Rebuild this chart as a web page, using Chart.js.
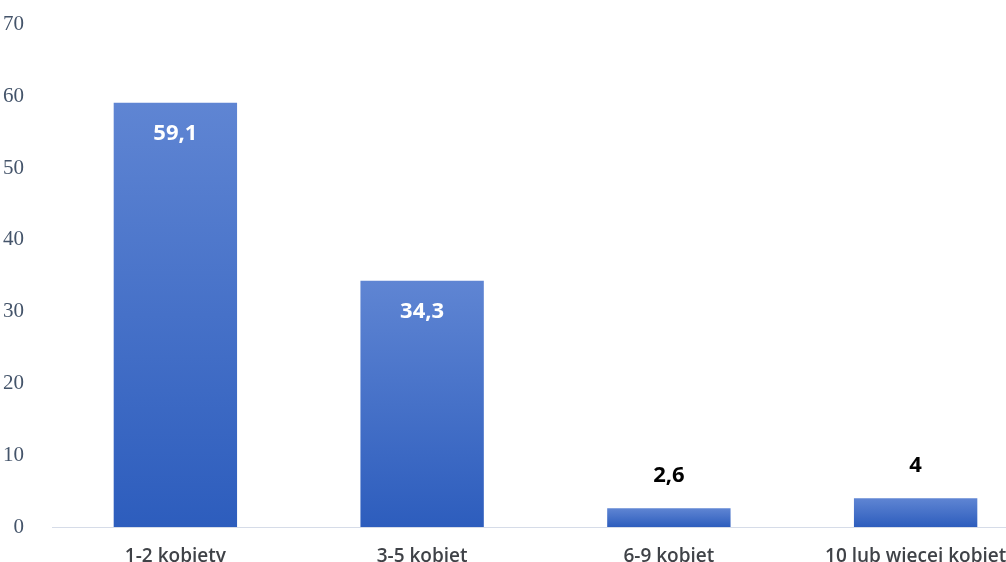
<!DOCTYPE html>
<html>
<head>
<meta charset="utf-8">
<script src="https://cdn.jsdelivr.net/npm/chart.js@4.4.0/dist/chart.umd.min.js"></script>
<style>
  html, body { margin: 0; padding: 0; background: #fff; overflow: hidden; }
  .wrap { width: 1039px; height: 583px; margin-top: -8px; position: relative; }
</style>
</head>
<body>
<div class="wrap"><canvas class="js-chart"></canvas></div>
<script>
const categories = ['1-2 kobiety', '3-5 kobiet', '6-9 kobiet', '10 lub więcej kobiet'];
const values = [59.1, 34.3, 2.6, 4];
const valueLabels = ['59,1', '34,3', '2,6', '4'];
const yTicks = [0, 10, 20, 30, 40, 50, 60, 70];

function barGradient(context) {
  const chart = context.chart;
  const { ctx, chartArea, scales } = chart;
  if (!chartArea || !scales.y) return '#4a74cc';
  const top = scales.y.getPixelForValue(context.raw);
  const base = scales.y.getPixelForValue(0);
  const g = ctx.createLinearGradient(0, top, 0, base);
  g.addColorStop(0, '#5f85d3');
  g.addColorStop(1, '#2d5dbd');
  return g;
}

// simple value labels: white inside tall bars, black above short ones
const valueLabelPlugin = {
  id: 'valueLabels',
  afterDatasetsDraw(chart) {
    const ctx = chart.ctx;
    const meta = chart.getDatasetMeta(0);
    ctx.save();
    ctx.font = 'bold 22px "Open Sans"';
    ctx.textAlign = 'center';
    ctx.textBaseline = 'middle';
    meta.data.forEach((bar, i) => {
      if (values[i] > 20) {
        ctx.fillStyle = '#ffffff';
        ctx.fillText(valueLabels[i], bar.x, bar.y + 31);
      } else {
        ctx.fillStyle = '#000000';
        ctx.fillText(valueLabels[i], bar.x, bar.y - 33);
      }
    });
    ctx.restore();
  }
};

const ctx = document.querySelector('.js-chart').getContext('2d');

new Chart(ctx, {
  type: 'bar',
  data: {
    labels: categories,
    datasets: [{
      data: values,
      backgroundColor: barGradient,
      borderWidth: 0,
      categoryPercentage: 1,
      barPercentage: 0.5
    }]
  },
  options: {
    responsive: true,
    maintainAspectRatio: false,
    animation: false,
    layout: { padding: { top: 10, right: 0, left: 0, bottom: 0 } },
    plugins: {
      legend: { display: false },
      tooltip: { enabled: false }
    },
    scales: {
      x: {
        grid: { display: false },
        border: { display: true, color: '#d6dce8', width: 1 },
        ticks: {
          color: '#3f4247',
          font: { family: 'Open Sans', size: 19, weight: '600' },
          padding: 10,
          maxRotation: 0
        },
        afterFit(scale) { scale.height = 48; }
      },
      y: {
        min: 0,
        max: 70,
        afterBuildTicks(scale) { scale.ticks = yTicks.map(v => ({ value: v })); },
        grid: { display: false },
        border: { display: false },
        ticks: {
          color: '#44546a',
          font: { family: 'Liberation Serif', size: 21 },
          padding: 20
        },
        afterFit(scale) { scale.width = 52; }
      }
    }
  },
  plugins: [valueLabelPlugin]
});
</script>
</body>
</html>
